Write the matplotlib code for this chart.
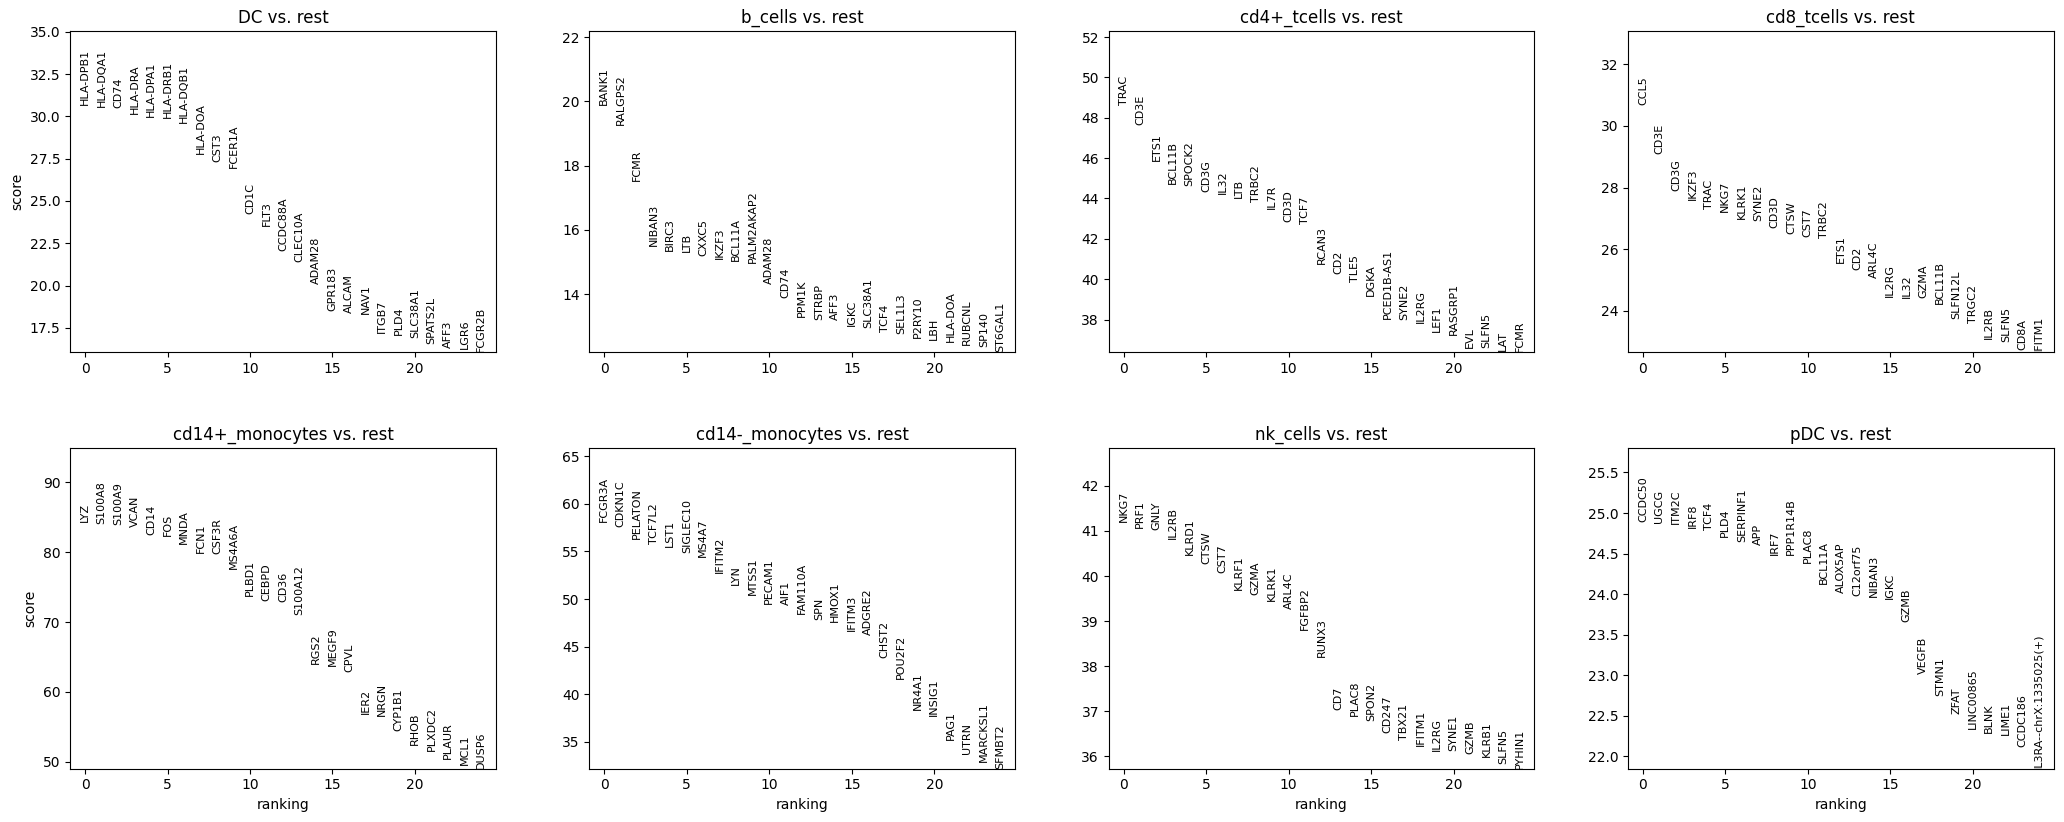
import matplotlib
matplotlib.use("Agg")
import matplotlib.pyplot as plt
import numpy as np

groups = ["DC", "b_cells", "cd4+_tcells", "cd8_tcells",
          "cd14+_monocytes", "cd14-_monocytes", "nk_cells", "pDC"]

dc_genes = ["HLA-DPB1", "HLA-DQA1", "CD74", "HLA-DRA", "HLA-DPA1", "HLA-DRB1", "HLA-DQB1",
            "HLA-DOA", "CST3", "FCER1A", "CD1C", "FLT3", "CCDC88A", "CLEC10A", "ADAM28",
            "GPR183", "ALCAM", "NAV1", "ITGB7", "PLD4", "SLC38A1", "SPATS2L", "AFF3", "LGR6", "FCGR2B"]
dc_scores = [30.66, 30.56, 30.52, 30.17, 29.97, 29.89, 29.63, 27.76, 27.33, 26.97, 24.21, 23.52,
             22.04, 21.41, 20.07, 18.49, 18.39, 18.29, 17.21, 17.05, 16.87, 16.52, 16.32, 16.22, 16.08]

b_genes = ["BANK1", "RALGPS2", "FCMR", "NIBAN3", "BIRC3", "LTB", "CXXC5", "IKZF3", "BCL11A",
           "PALM2AKAP2", "ADAM28", "CD74", "PPM1K", "STRBP", "AFF3", "IGKC", "SLC38A1", "TCF4",
           "SEL1L3", "P2RY10", "LBH", "HLA-DOA", "RUBCNL", "SP140", "ST6GAL1"]
b_scores = [19.88, 19.26, 17.51, 15.50, 15.35, 15.30, 15.19, 15.09, 15.03, 14.98, 14.30, 13.89,
            13.28, 13.19, 13.18, 13.00, 12.95, 12.82, 12.77, 12.62, 12.58, 12.50, 12.41, 12.34, 12.20]

cd4_genes = ["TRAC", "CD3E", "ETS1", "BCL11B", "SPOCK2", "CD3G", "IL32", "LTB", "TRBC2", "IL7R",
             "CD3D", "TCF7", "RCAN3", "CD2", "TLE5", "DGKA", "PCED1B-AS1", "SYNE2", "IL2RG",
             "LEF1", "RASGRP1", "EVL", "SLFN5", "LAT", "FCMR"]
cd4_scores = [48.62, 47.63, 45.84, 44.73, 44.60, 44.32, 44.20, 44.03, 43.82, 43.49, 42.82, 42.71,
              40.75, 40.25, 39.88, 39.17, 38.01, 38.00, 37.84, 37.38, 37.21, 36.60, 36.59, 36.45, 36.40]

cd8_genes = ["CCL5", "CD3E", "CD3G", "IKZF3", "TRAC", "NKG7", "KLRK1", "SYNE2", "CD3D", "CTSW",
             "CST7", "TRBC2", "ETS1", "CD2", "ARL4C", "IL2RG", "IL32", "GZMA", "BCL11B", "SLFN12L",
             "TRGC2", "IL2RB", "SLFN5", "CD8A", "IFITM1"]
cd8_scores = [30.67, 29.10, 27.88, 27.58, 27.31, 27.22, 26.98, 26.90, 26.69, 26.50, 26.39, 26.36,
              25.55, 25.32, 25.06, 24.45, 24.40, 24.40, 24.21, 23.73, 23.60, 23.07, 23.00, 22.72, 22.67]

cd14p_genes = ["LYZ", "S100A8", "S100A9", "VCAN", "CD14", "FOS", "MNDA", "FCN1", "CSF3R", "MS4A6A",
               "PLBD1", "CEBPD", "CD36", "S100A12", "RGS2", "MEGF9", "CPVL", "IER2", "NRGN",
               "CYP1B1", "RHOB", "PLXDC2", "PLAUR", "MCL1", "DUSP6"]
cd14p_scores = [84.3, 84.05, 83.9, 83.57, 82.48, 82.33, 81.14, 79.86, 79.71, 77.57, 73.76, 72.95,
                72.81, 71.05, 64.05, 63.67, 62.86, 56.86, 56.62, 54.38, 52.48, 51.52, 50.43, 49.62, 49.05]

cd14m_genes = ["FCGR3A", "CDKN1C", "PELATON", "TCF7L2", "LST1", "SIGLEC10", "MS4A7", "IFITM2",
               "LYN", "MTSS1", "PECAM1", "AIF1", "FAM110A", "SPN", "HMOX1", "IFITM3", "ADGRE2",
               "CHST2", "POU2F2", "NR4A1", "INSIG1", "PAG1", "UTRN", "MARCKSL1", "SFMBT2"]
cd14m_scores = [58.1, 57.57, 56.31, 55.82, 55.47, 54.84, 54.42, 52.74, 51.51, 50.46, 49.52, 49.41,
                48.47, 47.84, 47.59, 46.61, 46.19, 43.81, 41.64, 38.38, 37.75, 35.23, 33.76, 32.85, 32.18]

nk_genes = ["NKG7", "PRF1", "GNLY", "IL2RB", "KLRD1", "CTSW", "CST7", "KLRF1", "GZMA", "KLRK1",
            "ARL4C", "FGFBP2", "RUNX3", "CD7", "PLAC8", "SPON2", "CD247", "TBX21", "IFITM1",
            "IL2RG", "SYNE1", "GZMB", "KLRB1", "SLFN5", "PYHIN1"]
nk_scores = [41.2, 41.07, 41.02, 40.83, 40.46, 40.27, 40.07, 39.69, 39.58, 39.44, 39.26, 38.80,
             38.21, 37.02, 36.89, 36.78, 36.53, 36.36, 36.22, 36.13, 36.11, 36.06, 35.99, 35.84, 35.73]

pdc_genes = ["CCDC50", "UGCG", "ITM2C", "IRF8", "TCF4", "PLD4", "SERPINF1", "APP", "IRF7",
             "PPP1R14B", "PLAC8", "BCL11A", "ALOX5AP", "C12orf75", "NIBAN3", "IGKC", "GZMB",
             "VEGFB", "STMN1", "ZFAT", "LINC00865", "BLNK", "LIME1", "CCDC186",
             "IL3RA--chrX:1335025(+)"]
pdc_scores = [24.89, 24.88, 24.87, 24.82, 24.79, 24.70, 24.64, 24.60, 24.48, 24.48, 24.38, 24.13,
              24.02, 23.98, 23.96, 23.94, 23.66, 23.02, 22.74, 22.52, 22.34, 22.29, 22.26, 22.12, 21.85]

all_genes = [dc_genes, b_genes, cd4_genes, cd8_genes, cd14p_genes, cd14m_genes, nk_genes, pdc_genes]
all_scores = [dc_scores, b_scores, cd4_scores, cd8_scores, cd14p_scores, cd14m_scores, nk_scores, pdc_scores]

fig, axes = plt.subplots(2, 4, figsize=(20.64, 8.22), dpi=100)
fig.subplots_adjust(left=0.034, right=0.995, top=0.962, bottom=0.065, wspace=0.22, hspace=0.30)

for count, ax in enumerate(axes.flat):
    genes = all_genes[count]
    scores = np.array(all_scores[count])
    for ig, g in enumerate(genes):
        ax.text(ig, scores[ig], g, rotation="vertical", va="bottom", ha="center", fontsize=8)
    ax.set_title(groups[count] + " vs. rest")
    if count >= 4:
        ax.set_xlabel("ranking")
    if count % 4 == 0:
        ax.set_ylabel("score")
    ymin = scores.min()
    ymax = scores.max()
    ymax += 0.3 * (ymax - ymin)
    ax.set_ylim(ymin, ymax)
    ax.set_xlim(-0.9, ig + 1 - 0.1)

plt.savefig("out.png", dpi=100)
